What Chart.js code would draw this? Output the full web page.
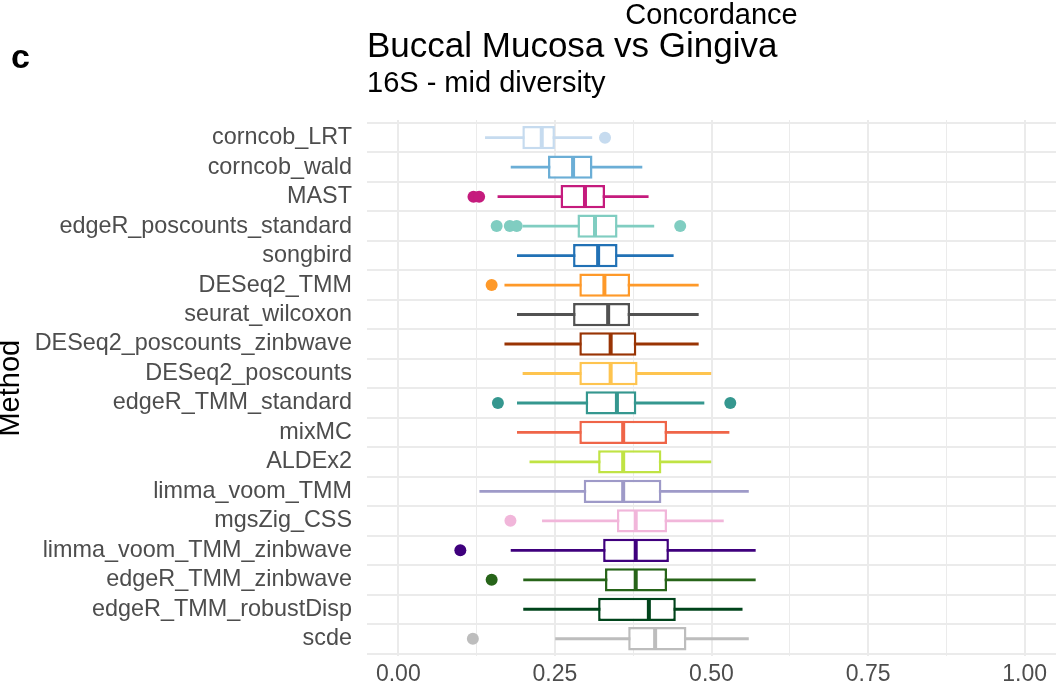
<!DOCTYPE html>
<html>
<head>
<meta charset="utf-8">
<script src="https://cdn.jsdelivr.net/npm/chart.js@4"></script>
<style>
  html, body { margin: 0; padding: 0; background: #fff; }
  #wrap { width: 1056px; height: 692px; }
</style>
</head>
<body>
<div id="wrap"><canvas id="boxChart"></canvas></div>
<script>
// methods, top to bottom
const methods = ['corncob_LRT', 'corncob_wald', 'MAST', 'edgeR_poscounts_standard', 'songbird',
  'DESeq2_TMM', 'seurat_wilcoxon', 'DESeq2_poscounts_zinbwave', 'DESeq2_poscounts', 'edgeR_TMM_standard',
  'mixMC', 'ALDEx2', 'limma_voom_TMM', 'mgsZig_CSS', 'limma_voom_TMM_zinbwave', 'edgeR_TMM_zinbwave',
  'edgeR_TMM_robustDisp', 'scde'];

// box statistics (concordance)
const whiskerLow  = [0.139, 0.180, 0.159, 0.199, 0.190, 0.170, 0.190, 0.170, 0.199, 0.190, 0.190, 0.210, 0.130, 0.230, 0.180, 0.200, 0.200, 0.251];
const q1          = [0.198, 0.239, 0.259, 0.286, 0.279, 0.289, 0.279, 0.289, 0.289, 0.299, 0.289, 0.319, 0.296, 0.349, 0.327, 0.330, 0.319, 0.367];
const median      = [0.229, 0.279, 0.298, 0.314, 0.319, 0.329, 0.335, 0.339, 0.339, 0.349, 0.359, 0.359, 0.359, 0.379, 0.379, 0.379, 0.400, 0.410];
const q3          = [0.250, 0.310, 0.330, 0.350, 0.350, 0.370, 0.370, 0.380, 0.382, 0.380, 0.429, 0.420, 0.420, 0.429, 0.432, 0.429, 0.443, 0.460];
const whiskerHigh = [0.309, 0.389, 0.399, 0.408, 0.439, 0.479, 0.479, 0.479, 0.499, 0.488, 0.528, 0.499, 0.559, 0.519, 0.570, 0.570, 0.549, 0.559];
const outliers = [[0.330], [], [0.120, 0.129], [0.157, 0.178, 0.189, 0.450], [], [0.149], [], [], [],
  [0.159, 0.530], [], [], [], [0.179], [0.099], [0.149], [], [0.119]];

// x axis
const xGrid = [0, 0.125, 0.25, 0.375, 0.5, 0.625, 0.75, 0.875, 1];
const xTicks = [0, 0.25, 0.5, 0.75, 1];

const colors = ['#C6DBEF', '#6BAED6', '#C51B7D', '#80CDC1', '#2171B5', '#FE9929', '#525252', '#993404',
  '#FEC44F', '#35978F', '#EF6548', '#C0E344', '#9E9AC8', '#F1B6DA', '#3F007D', '#276419', '#00441B', '#BDBDBD'];

const FONT = '"Liberation Sans", Arial, Helvetica, sans-serif';

// outlier points with matching colours
const outlierPts = [];
const outlierCols = [];
outliers.forEach((vals, i) => vals.forEach(v => { outlierPts.push({ x: v, y: i }); outlierCols.push(colors[i]); }));

// header texts drawn relative to the plot area
const headerPlugin = {
  id: 'header',
  afterDraw(chart) {
    const { ctx, chartArea } = chart;
    ctx.save();
    ctx.fillStyle = '#000';
    ctx.textBaseline = 'alphabetic';
    ctx.textAlign = 'center';
    ctx.font = '29px ' + FONT;
    ctx.fillText('Concordance', (chartArea.left + chartArea.right) / 2, 24);
    ctx.textAlign = 'left';
    ctx.font = '35px ' + FONT;
    ctx.fillText('Buccal Mucosa vs Gingiva', chartArea.left, 57);
    ctx.font = '29px ' + FONT;
    ctx.fillText('16S - mid diversity', chartArea.left, 92);
    ctx.font = 'bold 34px ' + FONT;
    ctx.fillText('c', 11, 68);
    ctx.restore();
  }
};

const ctx = document.getElementById('boxChart').getContext('2d');

new Chart(ctx, {
  type: 'bar',
  data: {
    datasets: [
      {
        type: 'scatter', // outliers
        data: outlierPts,
        pointBackgroundColor: outlierCols,
        pointBorderWidth: 0,
        pointRadius: 6,
        order: 0
      },
      {
        type: 'scatter', // medians
        data: median.map((v, i) => ({ x: v, y: i })),
        pointStyle: 'line',
        rotation: 90,
        pointRadius: 10.5,
        pointBorderColor: colors,
        pointBorderWidth: 4,
        order: 0
      },
      {
        type: 'bar', // boxes
        data: methods.map((m, i) => ({ x: [q1[i], q3[i]], y: i })),
        backgroundColor: '#ffffff',
        borderColor: colors,
        borderWidth: 2.5,
        borderSkipped: false,
        grouped: false,
        categoryPercentage: 1,
        barPercentage: 0.79,
        order: 1
      },
      {
        type: 'bar', // whiskers
        data: methods.map((m, i) => ({ x: [whiskerLow[i], whiskerHigh[i]], y: i })),
        backgroundColor: colors,
        borderWidth: 0,
        grouped: false,
        barThickness: 2.2,
        order: 2
      }
    ]
  },
  options: {
    indexAxis: 'y',
    responsive: true,
    maintainAspectRatio: false,
    animation: false,
    layout: { autoPadding: false, padding: { top: 120, right: 0, bottom: 0, left: 0 } },
    plugins: {
      legend: { display: false },
      tooltip: { enabled: false }
    },
    scales: {
      x: {
        type: 'linear',
        min: -0.05,
        max: 1.05,
        afterBuildTicks: (scale) => { scale.ticks = xGrid.map(v => ({ value: v })); },
        ticks: {
          padding: 8,
          color: '#4D4D4D',
          font: { family: FONT, size: 23, lineHeight: 0.85 },
          maxRotation: 0,
          autoSkip: false,
          callback: (v) => xTicks.includes(v) ? v.toFixed(2) : ''
        },
        grid: {
          color: '#EBEBEB',
          lineWidth: (c) => (c.tick && xTicks.includes(c.tick.value)) ? 2 : 1,
          drawTicks: false,
          tickLength: 0
        },
        border: { display: false }
      },
      y: {
        type: 'linear',
        reverse: true,
        offset: false,
        min: -0.6,
        max: methods.length - 0.4,
        afterBuildTicks: (scale) => { scale.ticks = methods.map((m, i) => ({ value: i })); },
        afterFit: (scale) => { scale.width = 367; },
        ticks: {
          padding: 15,
          color: '#4D4D4D',
          font: { family: FONT, size: 23.4 },
          autoSkip: false,
          callback: (v) => methods[v]
        },
        grid: { color: '#EBEBEB', lineWidth: 2, drawTicks: false, tickLength: 0 },
        border: { display: false },
        title: {
          display: true,
          text: 'Method',
          color: '#000',
          padding: 0,
          font: { family: FONT, size: 29, lineHeight: 0.76 }
        }
      }
    }
  },
  plugins: [headerPlugin]
});
</script>
</body>
</html>
